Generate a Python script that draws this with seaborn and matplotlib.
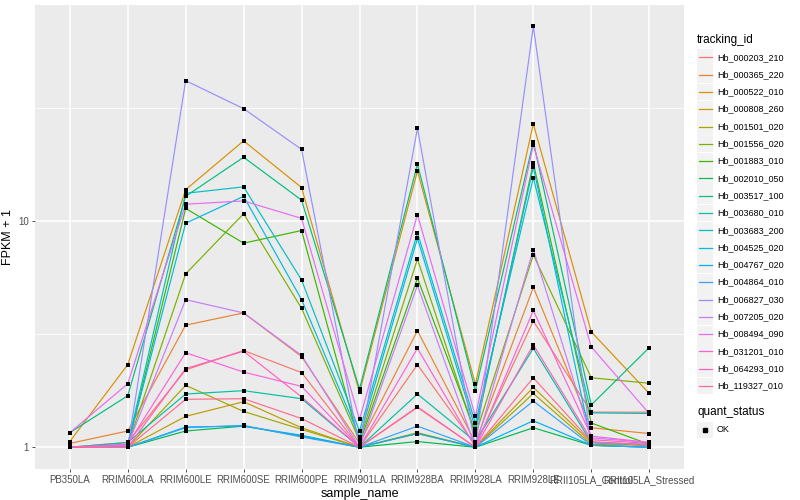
import numpy as np
import pandas as pd
import matplotlib
matplotlib.use("Agg")
import matplotlib.pyplot as plt
from matplotlib.lines import Line2D
from matplotlib.patches import Rectangle
import seaborn as sns

# samples on the x axis
samples = ["PB350LA", "RRIM600LA", "RRIM600LE", "RRIM600SE", "RRIM600PE",
           "RRIM901LA", "RRIM928BA", "RRIM928LA", "RRIM928LE",
           "RRII105LA_Control", "RRII105LA_Stressed"]

tracking_ids = ["Hb_000203_210", "Hb_000365_220", "Hb_000522_010", "Hb_000808_260",
                "Hb_001501_020", "Hb_001556_020", "Hb_001883_010", "Hb_002010_050",
                "Hb_003517_100", "Hb_003680_010", "Hb_003683_200", "Hb_004525_020",
                "Hb_004767_020", "Hb_004864_010", "Hb_006827_030", "Hb_007205_020",
                "Hb_008494_090", "Hb_031201_010", "Hb_064293_010", "Hb_119327_010"]

# FPKM + 1, one row per gene
fpkm = [
    [1.00, 1.05, 2.20, 2.68, 2.14, 1.00, 2.32, 1.02, 3.62, 1.43, 1.43],
    [1.04, 1.18, 3.47, 3.93, 2.52, 1.04, 3.28, 1.05, 5.10, 1.22, 1.15],
    [1.06, 2.32, 13.8, 22.7, 14.1, 1.75, 16.7, 1.90, 27.0, 3.24, 1.73],
    [1.00, 1.00, 1.37, 1.59, 1.22, 1.00, 1.15, 1.00, 1.84, 1.05, 1.02],
    [1.00, 1.00, 1.88, 1.44, 1.20, 1.00, 1.16, 1.00, 1.73, 1.03, 1.02],
    [1.00, 1.02, 5.85, 10.8, 4.12, 1.07, 6.80, 1.13, 7.10, 2.03, 1.92],
    [1.00, 1.01, 11.4, 8.00, 9.10, 1.04, 5.60, 1.17, 18.1, 1.28, 1.03],
    [1.00, 1.00, 1.18, 1.24, 1.12, 1.00, 1.06, 1.00, 1.22, 1.02, 1.00],
    [1.16, 1.69, 12.9, 19.2, 12.4, 1.81, 17.9, 1.78, 22.5, 1.54, 2.76],
    [1.00, 1.05, 1.72, 1.78, 1.64, 1.00, 1.72, 1.06, 2.74, 1.05, 1.03],
    [1.00, 1.03, 13.3, 14.2, 5.50, 1.18, 8.90, 1.28, 15.6, 1.42, 1.41],
    [1.00, 1.02, 9.80, 12.9, 4.50, 1.11, 8.40, 1.21, 17.4, 1.05, 1.02],
    [1.00, 1.00, 1.23, 1.24, 1.13, 1.00, 1.15, 1.00, 1.31, 1.02, 1.00],
    [1.00, 1.00, 1.22, 1.25, 1.11, 1.00, 1.24, 1.00, 1.60, 1.02, 1.00],
    [1.00, 1.00, 41.9, 31.5, 20.8, 1.00, 25.8, 1.00, 72.9, 1.05, 1.03],
    [1.00, 1.02, 4.50, 3.93, 2.55, 1.00, 5.20, 1.00, 7.50, 1.10, 1.05],
    [1.16, 1.91, 11.9, 12.3, 10.3, 1.33, 10.7, 1.37, 21.8, 2.78, 1.41],
    [1.00, 1.03, 2.62, 2.15, 1.86, 1.00, 2.74, 1.00, 4.03, 1.12, 1.05],
    [1.00, 1.00, 2.23, 2.66, 1.67, 1.00, 1.51, 1.00, 2.84, 1.08, 1.04],
    [1.00, 1.00, 1.63, 1.64, 1.34, 1.00, 1.50, 1.00, 2.03, 1.06, 1.02],
]

# ggplot2 default hue palette for 20 levels
palette = ["#F8766D", "#EA8331", "#D89000", "#C09B00", "#A3A500", "#7CAE00",
           "#39B600", "#00BB4E", "#00BF7D", "#00C1A3", "#00BFC4", "#00BAE0",
           "#00B0F6", "#35A2FF", "#9590FF", "#C77CFF", "#E76BF3", "#FA62DB",
           "#FF62BC", "#FF6C91"]

rows = []
for tid, vals in zip(tracking_ids, fpkm):
    for s, v in zip(samples, vals):
        rows.append({"tracking_id": tid, "sample_name": s, "fpkm": v, "quant_status": "OK"})
df = pd.DataFrame(rows)
df["x"] = df["sample_name"].map({s: i for i, s in enumerate(samples)})

plt.rcParams["font.family"] = ["Liberation Sans", "DejaVu Sans"]

W, H = 800, 500
fig = plt.figure(figsize=(8, 5), dpi=100)
ax = fig.add_axes([35 / W, 1 - 468.5 / H, (684 - 35) / W, (468.5 - 5) / H])
ax.set_facecolor("#EBEBEB")

sns.lineplot(data=df, x="x", y="fpkm", hue="tracking_id", palette=palette,
             hue_order=tracking_ids, sort=False, estimator=None, lw=0.85,
             legend=False, ax=ax, zorder=3)
sns.scatterplot(data=df, x="x", y="fpkm", color="black", marker="s", s=8,
                linewidth=0, legend=False, ax=ax, zorder=4)

ax.set_yscale("log")
ax.set_ylim(10 ** -0.094, 10 ** 1.957)
ax.set_xlim(-0.6, len(samples) - 0.4)
ax.yaxis.set_minor_locator(plt.NullLocator())
ax.set_yticks([1, 10])
ax.set_yticklabels(["1", "10"])
ax.set_xticks(range(len(samples)))
ax.set_xticklabels(samples)

for v in [10 ** 0.5, 10 ** 1.5]:
    ax.axhline(v, color="white", lw=0.55, zorder=1)
for v in [1, 10]:
    ax.axhline(v, color="white", lw=1.1, zorder=1)
for i in range(len(samples)):
    ax.axvline(i, color="white", lw=1.1, zorder=1)

for sp in ax.spines.values():
    sp.set_visible(False)
ax.tick_params(axis="both", length=2.5, width=0.6, color="#333333",
               labelsize=7, labelcolor="#4D4D4D", pad=2)
ax.set_xlabel("sample_name", fontsize=9, labelpad=2)
ax.set_ylabel("FPKM + 1", fontsize=9, labelpad=3)


def fx(px):
    return px / W


def fy(py):
    return 1 - py / H


# legend: tracking_id
fig.text(fx(697), fy(40.5), "tracking_id", fontsize=8.5, va="center", ha="left")
for i, (tid, col) in enumerate(zip(tracking_ids, palette)):
    yc = 57.3 + i * 17.3
    fig.add_artist(Rectangle((fx(697), fy(yc + 8.4)), 16 / W, 16.8 / H,
                             transform=fig.transFigure, facecolor="#F2F2F2",
                             edgecolor="none"))
    fig.add_artist(Line2D([fx(698.5), fx(711.5)], [fy(yc), fy(yc)],
                          transform=fig.transFigure, color=col, lw=0.9))
    fig.text(fx(717), fy(yc), tid, fontsize=6.5, va="center", ha="left")

# legend: quant_status
fig.text(fx(697), fy(412), "quant_status", fontsize=8.5, va="center", ha="left")
fig.add_artist(Rectangle((fx(697), fy(430 + 8.4)), 16 / W, 16.8 / H,
                         transform=fig.transFigure, facecolor="#F2F2F2",
                         edgecolor="none"))
fig.add_artist(Line2D([fx(705)], [fy(430)], transform=fig.transFigure,
                      marker="s", color="black", markersize=2.6, lw=0))
fig.text(fx(717), fy(430), "OK", fontsize=6.5, va="center", ha="left")

fig.savefig("out.png", dpi=100)
